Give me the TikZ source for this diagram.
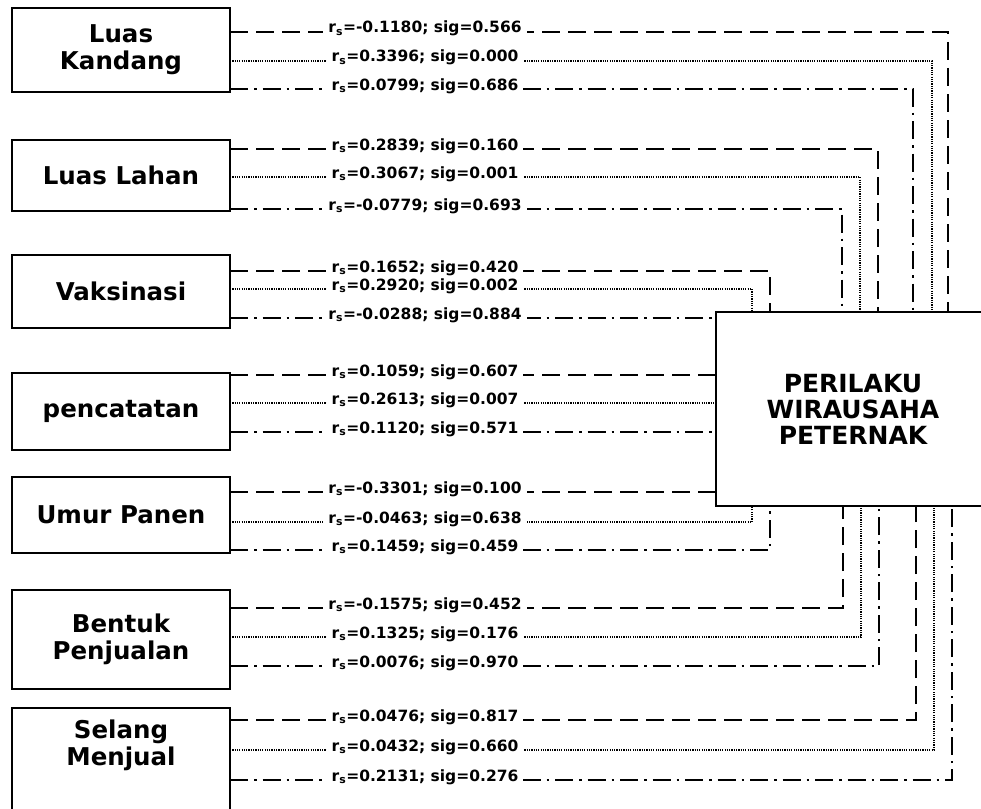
\documentclass[tikz,border=0pt]{standalone}
\usepackage{fontspec}
\setmainfont{DejaVu Sans}
\newcommand\rsub{r\textsubscript{s}}
\begin{document}
\begin{tikzpicture}[x=1pt,y=-1pt,
  box/.style={draw, line width=2.2pt, minimum width=218pt, align=center,
    inner sep=0pt, font=\fontsize{24.5}{27}\selectfont\bfseries},
  boxtext/.style={align=center, inner sep=0pt,
    font=\fontsize{24.5}{27}\selectfont\bfseries},
  target/.style={draw, fill=white, line width=2.8pt, minimum width=274pt,
    minimum height=194pt, align=center, inner sep=0pt,
    font=\fontsize{25}{26}\selectfont\bfseries},
  dsh/.style={line width=2.2pt, dash pattern=on 18pt off 8pt},
  dot/.style={line width=1.4pt, dash pattern=on 1.2pt off 1.1pt},
  dshdot/.style={line width=2.2pt, dash pattern=on 18pt off 6pt on 2.5pt off 6pt},
  lab/.style={fill=white, anchor=base, inner xsep=5pt, inner ysep=1pt,
    font=\fontsize{15.5}{18}\selectfont\bfseries}
]
\useasboundingbox (0,0) rectangle (981,808);

% variable boxes on the left
\node[box, minimum height=84pt] (b1) at (121,50) {Luas\\Kandang};
\node[box, minimum height=71pt] (b2) at (121,175.5) {Luas Lahan};
\node[box, minimum height=73pt] (b3) at (121,291.5) {Vaksinasi};
\node[box, minimum height=77pt] (b4) at (121,411.5) {pencatatan};
\node[box, minimum height=76pt] (b5) at (121,515) {Umur Panen};
\node[box, minimum height=99pt] (b6) at (121,639.5) {Bentuk\\Penjualan};
\node[box, minimum height=123pt, anchor=north] (b7) at (121,707) {};
\node[boxtext] (t7) at (121,745) {Selang\\Menjual};

% dependent variable box (its right side runs past the page edge)
\node[target] (P) at (853,409) {PERILAKU\\WIRAUSAHA\\PETERNAK};

% start points of the connectors on the right side of each box
\coordinate (s11) at (230,32);  \coordinate (s12) at (230,61);  \coordinate (s13) at (230,89);
\coordinate (s21) at (230,149); \coordinate (s22) at (230,177); \coordinate (s23) at (230,209);
\coordinate (s31) at (230,271); \coordinate (s32) at (230,289); \coordinate (s33) at (230,318);
\coordinate (s41) at (230,375); \coordinate (s42) at (230,403); \coordinate (s43) at (230,432);
\coordinate (s51) at (230,492); \coordinate (s52) at (230,522); \coordinate (s53) at (230,550);
\coordinate (s61) at (230,608); \coordinate (s62) at (230,637); \coordinate (s63) at (230,666);
\coordinate (s71) at (230,720); \coordinate (s72) at (230,750); \coordinate (s73) at (230,780);

% vertical lanes into the top and bottom of the target box
\coordinate (u1) at (948,0); \coordinate (u2) at (932,0); \coordinate (u3) at (913,0);
\coordinate (u4) at (878,0); \coordinate (u5) at (860,0); \coordinate (u6) at (842,0);
\coordinate (u7) at (770,0); \coordinate (u8) at (752,0);
\coordinate (d1) at (752,0); \coordinate (d2) at (770,0);
\coordinate (d3) at (843,0); \coordinate (d4) at (861,0); \coordinate (d5) at (879,0);
\coordinate (d6) at (916,0); \coordinate (d7) at (934,0); \coordinate (d8) at (952,0);

% connectors
\draw[dsh]    (s11) -| (u1 |- P.north);
\draw[dot]    (s12) -| (u2 |- P.north);
\draw[dshdot] (s13) -| (u3 |- P.north);
\draw[dsh]    (s21) -| (u4 |- P.north);
\draw[dot]    (s22) -| (u5 |- P.north);
\draw[dshdot] (s23) -| (u6 |- P.north);
\draw[dsh]    (s31) -| (u7 |- P.north);
\draw[dot]    (s32) -| (u8 |- P.north);
\draw[dshdot] (s33) -- (P.west |- s33);
\draw[dsh]    (s41) -- (P.west |- s41);
\draw[dot]    (s42) -- (P.west |- s42);
\draw[dshdot] (s43) -- (P.west |- s43);
\draw[dsh]    (s51) -- (P.west |- s51);
\draw[dot]    (s52) -| (d1 |- P.south);
\draw[dshdot] (s53) -| (d2 |- P.south);
\draw[dsh]    (s61) -| (d3 |- P.south);
\draw[dot]    (s62) -| (d4 |- P.south);
\draw[dshdot] (s63) -| (d5 |- P.south);
\draw[dsh]    (s71) -| (d6 |- P.south);
\draw[dot]    (s72) -| (d7 |- P.south);
\draw[dshdot] (s73) -| (d8 |- P.south);

% redraw the target frame over the line ends
\node[target] at (P) {PERILAKU\\WIRAUSAHA\\PETERNAK};

% correlation labels
\node[lab] (l11) at (425,33)  {\rsub=-0.1180; sig=0.566};
\node[lab] (l12) at (425,62)  {\rsub=0.3396; sig=0.000};
\node[lab] (l13) at (425,90)  {\rsub=0.0799; sig=0.686};
\node[lab] (l21) at (425,150) {\rsub=0.2839; sig=0.160};
\node[lab] (l22) at (425,178) {\rsub=0.3067; sig=0.001};
\node[lab] (l23) at (425,210) {\rsub=-0.0779; sig=0.693};
\node[lab] (l31) at (425,272) {\rsub=0.1652; sig=0.420};
\node[lab] (l32) at (425,290) {\rsub=0.2920; sig=0.002};
\node[lab] (l33) at (425,319) {\rsub=-0.0288; sig=0.884};
\node[lab] (l41) at (425,376) {\rsub=0.1059; sig=0.607};
\node[lab] (l42) at (425,404) {\rsub=0.2613; sig=0.007};
\node[lab] (l43) at (425,433) {\rsub=0.1120; sig=0.571};
\node[lab] (l51) at (425,493) {\rsub=-0.3301; sig=0.100};
\node[lab] (l52) at (425,523) {\rsub=-0.0463; sig=0.638};
\node[lab] (l53) at (425,551) {\rsub=0.1459; sig=0.459};
\node[lab] (l61) at (425,609) {\rsub=-0.1575; sig=0.452};
\node[lab] (l62) at (425,638) {\rsub=0.1325; sig=0.176};
\node[lab] (l63) at (425,667) {\rsub=0.0076; sig=0.970};
\node[lab] (l71) at (425,721) {\rsub=0.0476; sig=0.817};
\node[lab] (l72) at (425,751) {\rsub=0.0432; sig=0.660};
\node[lab] (l73) at (425,781) {\rsub=0.2131; sig=0.276};
\end{tikzpicture}
\end{document}
